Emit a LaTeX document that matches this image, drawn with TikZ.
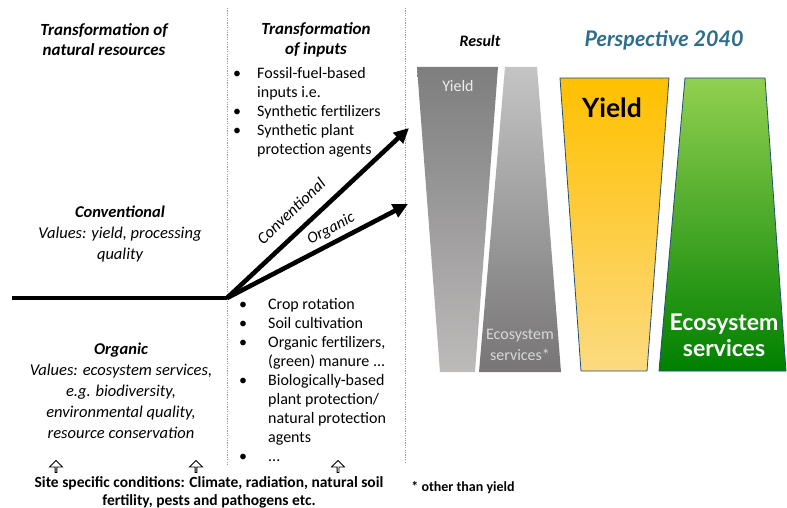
\documentclass[tikz,border=0pt]{standalone}
\usepackage{fontspec}
\setmainfont{Carlito}
\newfontfamily\gill{Lato}
\usetikzlibrary{arrows.meta,shapes.arrows}
\definecolor{persp}{HTML}{2E6E8C}
\definecolor{edgeblue}{HTML}{1F4E79}
\definecolor{orT}{HTML}{FFC000}
\definecolor{orB}{HTML}{FCDA80}
\definecolor{grT}{HTML}{92D050}
\definecolor{grM}{HTML}{30C430}
\definecolor{grB}{HTML}{008000}
\definecolor{g1T}{HTML}{7E7E7E}
\definecolor{g1B}{HTML}{BDBABA}
\definecolor{g2T}{HTML}{C4C4C4}
\definecolor{g2B}{HTML}{777575}
\begin{document}
\begin{tikzpicture}[x=1pt,y=-1pt,
  sep/.style={draw=gray!80, line width=0.7pt, dash pattern=on 1.2pt off 1.2pt},
  flow/.style={line width=4.6pt, -{Triangle[length=15pt,width=14pt]}},
  head/.style={font=\fontsize{17}{20}\selectfont\bfseries\itshape, align=center},
  body/.style={font=\fontsize{16.5}{21}\selectfont\itshape, align=center},
  list/.style={font=\fontsize{16}{19}\selectfont, align=left, anchor=north west, inner sep=0pt},
  uparr/.style={single arrow, draw, line width=0.8pt, shape border rotate=90, minimum height=12pt, minimum width=13pt, single arrow head extend=2.5pt, inner sep=0pt},
  trap/.style={draw=edgeblue, line width=0.8pt}
]
\useasboundingbox (0,0) rectangle (787,508);
\fill[white] (0,0) rectangle (787,508);

% separators
\coordinate (s1t) at (227,8); \coordinate (s1b) at (227,466);
\coordinate (s2t) at (405,8); \coordinate (s2b) at (405,462);
\draw[sep] (s1t) -- (s1b);
\draw[sep] (s2t) -- (s2b);

% headings
\node[head] (h1) at (104,40) {Transformation of\\natural resources};
\node[head] (h2) at (316,40) {Transformation\\of inputs};
\node[font=\fontsize{16}{18}\selectfont\bfseries\itshape] (h3) at (480,41) {Result};
\node[font=\gill\fontsize{21.5}{24}\selectfont\bfseries\itshape, text=persp] (h4) at (664,40) {Perspective 2040};

% left texts
\node[body] (conv) at (120,234) {\textbf{Conventional}\\Values: yield, processing\\quality};
\node[body] (org) at (121,391) {\textbf{Organic}\\Values: ecosystem services,\\e.g. biodiversity,\\environmental quality,\\resource conservation};

% bullet lists
\node[list] (l1) at (233,67) {\makebox[24pt][l]{•}Fossil-fuel-based\\\hspace*{24pt}inputs i.e.\\\makebox[24pt][l]{•}Synthetic fertilizers\\\makebox[24pt][l]{•}Synthetic plant\\\hspace*{24pt}protection agents};
\node[list] (l2) at (239,298) {\makebox[29pt][l]{•}Crop rotation\\\makebox[29pt][l]{•}Soil cultivation\\\makebox[29pt][l]{•}Organic fertilizers,\\\hspace*{29pt}(green) manure ...\\\makebox[29pt][l]{•}Biologically-based\\\hspace*{29pt}plant protection/\\\hspace*{29pt}natural protection\\\hspace*{29pt}agents\\\makebox[29pt][l]{•}...};

% arrows
\coordinate (start) at (12,298);
\coordinate (j) at (227,298);
\coordinate (ct) at (409,128);
\coordinate (ot) at (408,204);
\draw[line width=4.6pt] (start) -- (j);
\draw[flow] (j) -- (ct);
\draw[flow] (j) -- (ot);
\node[font=\fontsize{16.5}{18}\selectfont\itshape, rotate=43.5] (cl) at (291,211) {Conventional};
\node[font=\fontsize{16}{18}\selectfont\itshape, rotate=27.5] (ol) at (331,229) {Organic};

% gray result trapezoids
\shade[top color=g1T, bottom color=g1B] (417,67) -- (498,67) -- (475,372) -- (440,372) -- cycle;
\shade[top color=g2T, bottom color=g2B] (505,67) -- (537,67) -- (561,372) -- (479,372) -- cycle;
\node[font=\fontsize{16}{18}\selectfont, text=gray!15] (gy) at (458,86) {Yield};
\node[font=\fontsize{16}{21}\selectfont, text=gray!30, align=center] (ge) at (520,345) {Ecosystem\\services*};

% perspective trapezoids
\shade[top color=orT, bottom color=orB] (560,78) -- (669,78) -- (647,371) -- (581,371) -- cycle;
\draw[trap] (560,78) -- (669,78) -- (647,371) -- (581,371) -- cycle;
\shade[top color=grT, middle color=grM, bottom color=grB] (685,78) -- (765,78) -- (786,371) -- (659,371) -- cycle;
\draw[trap] (685,78) -- (765,78) -- (786,371) -- (659,371) -- cycle;
\node[font=\gill\fontsize{26.5}{28}\selectfont\bfseries] (py) at (612,108) {Yield};
\node[font=\gill\fontsize{23}{26}\selectfont\bfseries, text=white, align=center] (pe) at (724,335) {Ecosystem\\services};

% bottom
\node[uparr] (u1) at (56,467) {};
\node[uparr] (u2) at (196,467) {};
\node[uparr] (u3) at (338,467) {};
\node[font=\fontsize{15.5}{18}\selectfont\bfseries, align=center] (site) at (209,492) {Site specific conditions: Climate, radiation, natural soil\\fertility, pests and pathogens etc.};
\node[font=\fontsize{14}{16}\selectfont\bfseries] (foot) at (463,488) {* other than yield};
\end{tikzpicture}
\end{document}
